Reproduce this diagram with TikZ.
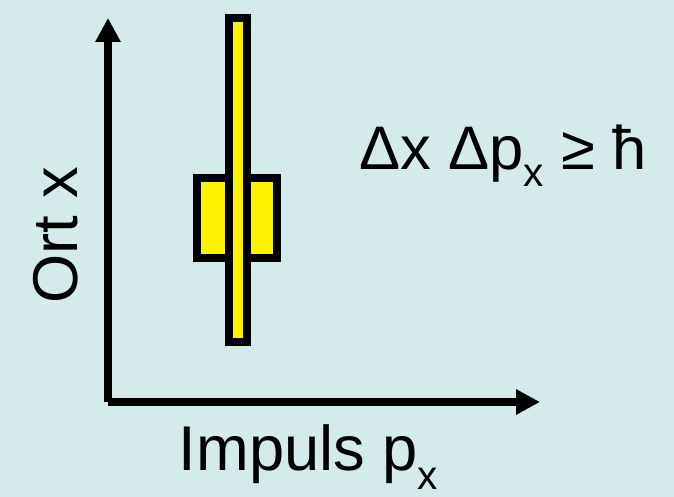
\documentclass[tikz,border=0pt]{standalone}
\usepackage{fontspec}
\setmainfont{Liberation Sans}
\usetikzlibrary{arrows.meta}
\definecolor{bgcyan}{RGB}{212,234,235}
\begin{document}
\begin{tikzpicture}[
  axis/.style={line width=4.55pt,-{Triangle[length=0.48cm,width=0.48cm]}},
  barbox/.style={draw,fill=yellow,line width=4.55pt,inner sep=0pt},
  bigtext/.style={font=\fontsize{36}{40}\selectfont,inner sep=0pt},
  midtext/.style={font=\fontsize{35}{40}\selectfont,inner sep=0pt}]
  % background
  \fill[bgcyan] (0,0) rectangle (13.48,9.94);
  \useasboundingbox (0,0) rectangle (13.48,9.94);
  % axes
  \coordinate (o) at (2.16,1.90);
  \coordinate (ytip) at (2.16,9.58);
  \coordinate (xtip) at (10.80,1.90);
  \draw[axis] (o) -- (ytip);
  \draw[axis] (o) -- (xtip);
  % uncertainty boxes
  \node[barbox,minimum width=1.6cm,minimum height=1.6cm] (wide) at (4.74,5.58) {};
  \node[barbox,minimum width=0.36cm,minimum height=6.48cm] (tall) at (4.76,6.34) {};
  % labels
  \node[bigtext,anchor=base,rotate=90] (ortx) at (1.54,5.24) {Ort x};
  \node[bigtext,anchor=base] (impuls) at (6.17,0.52) {Impuls p\raisebox{-0.3em}{\fontsize{23}{23}\selectfont x}};
  \node[midtext,anchor=base] (rel) at (10.06,6.54) {Δx Δp\raisebox{-0.27em}{\fontsize{23}{23}\selectfont x} ≥ ħ};
\end{tikzpicture}
\end{document}
